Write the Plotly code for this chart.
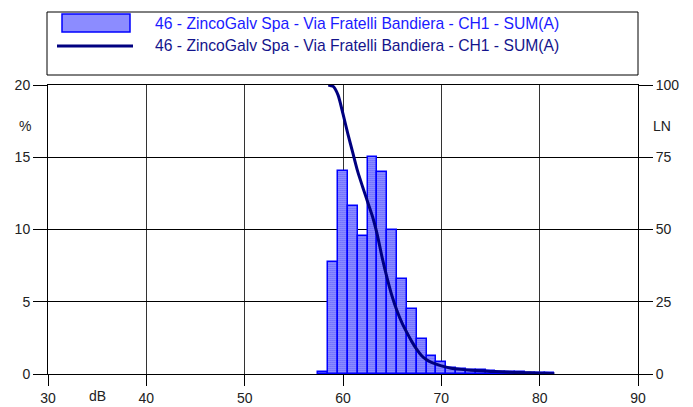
import plotly.graph_objects as go

# Histogram of levels (% of time per 1 dB class)
db_classes = [58, 59, 60, 61, 62, 63, 64, 65, 66, 67, 68, 69, 70,
              71, 72, 73, 74, 75, 76, 77, 78, 79, 80, 81]
percent = [0.12, 7.77, 14.05, 11.65, 9.55, 15.04, 14.0, 9.97, 6.6, 4.5, 2.4, 1.27, 0.8,
           0.45, 0.35, 0.3, 0.25, 0.2, 0.17, 0.14, 0.12, 0.1, 0.08, 0.05]

# Cumulative distribution LN
ln_db = [58.5, 59.0, 59.5, 60.0, 60.5, 61.0, 61.5, 62.0, 62.5, 63.0, 63.5, 64.0,
         64.5, 65.0, 65.5, 66.0, 66.5, 67.0, 67.5, 68.0, 68.5, 69.0, 70.0, 71.0,
         72.0, 73.0, 74.0, 75.0, 76.0, 77.0, 78.0, 79.0, 80.0, 81.0, 81.5]
ln_val = [100, 99.5, 96.5, 90, 83, 76.5, 70, 64.7, 59.6, 54.5, 48, 40,
          33, 26.8, 21.8, 17.7, 14.3, 11.2, 8.5, 6.3, 4.9, 4.0, 2.8, 2.0,
          1.6, 1.3, 1.1, 0.9, 0.75, 0.6, 0.5, 0.4, 0.3, 0.2, 0.1]

series_name = "46 - ZincoGalv Spa - Via Fratelli Bandiera - CH1 - SUM(A)"

FONT = "Arial, Liberation Sans, sans-serif"

# plot area in pixels: x 48..638, y 85..374
def px(x):
    return (x - 48) / 590.0

def py(y):
    return (374 - y) / 289.0

fig = go.Figure()

fig.add_trace(go.Bar(
    x=db_classes,
    y=percent,
    width=1,
    marker=dict(
        color="#ffffff",
        line=dict(color="#0000ff", width=1.5),
        pattern=dict(shape=".", fgcolor="#2a2aff", bgcolor="#dcdcff",
                     size=2, solidity=0.6, fillmode="replace"),
    ),
    name=series_name,
    showlegend=False,
))

fig.add_trace(go.Scatter(
    x=ln_db,
    y=ln_val,
    mode="lines",
    line=dict(color="#000080", width=3, shape="spline", smoothing=0.6),
    yaxis="y2",
    name=series_name,
    showlegend=False,
))

shapes = [
    # legend box
    dict(type="rect", xref="paper", yref="paper",
         x0=px(47), x1=px(638), y0=py(75), y1=py(12),
         line=dict(color="black", width=1), fillcolor="white", layer="below"),
    # bar legend symbol
    dict(type="rect", xref="paper", yref="paper",
         x0=px(62), x1=px(130), y0=py(32), y1=py(14),
         line=dict(color="#0000ff", width=1.5), fillcolor="#8c8cff"),
    # line legend symbol
    dict(type="line", xref="paper", yref="paper",
         x0=px(57), x1=px(133), y0=py(46), y1=py(46),
         line=dict(color="#000080", width=3)),
]

annotations = [
    dict(text=series_name, xref="paper", yref="paper", x=px(153), y=py(23),
         xanchor="left", yanchor="middle", showarrow=False,
         font=dict(family=FONT, size=15.7, color="#1a1aff")),
    dict(text=series_name, xref="paper", yref="paper", x=px(153), y=py(46),
         xanchor="left", yanchor="middle", showarrow=False,
         font=dict(family=FONT, size=15.7, color="#14148c")),
    dict(text="%", xref="paper", yref="paper", x=px(25), y=py(126),
         xanchor="center", yanchor="middle", showarrow=False,
         font=dict(family=FONT, size=14, color="#222")),
    dict(text="LN", xref="paper", yref="paper", x=px(662), y=py(126),
         xanchor="center", yanchor="middle", showarrow=False,
         font=dict(family=FONT, size=14, color="#222")),
    dict(text="dB", xref="paper", yref="paper", x=px(97), y=py(396),
         xanchor="center", yanchor="middle", showarrow=False,
         font=dict(family=FONT, size=14, color="#222")),
]

fig.update_layout(
    width=693,
    height=407,
    margin=dict(l=48, r=55, t=85, b=33),
    paper_bgcolor="white",
    plot_bgcolor="white",
    bargap=0,
    font=dict(family=FONT, size=14, color="#222"),
    shapes=shapes,
    annotations=annotations,
    xaxis=dict(
        range=[30, 90], tickvals=[30, 40, 50, 60, 70, 80, 90],
        showgrid=True, gridcolor="#333333", gridwidth=1,
        zeroline=False, showline=True, linecolor="black", linewidth=1, mirror=True,
        ticks="outside", ticklen=11, tickcolor="black", automargin=False,
    ),
    yaxis=dict(
        range=[0, 20], tickvals=[0, 5, 10, 15, 20],
        showgrid=True, gridcolor="black", gridwidth=1,
        zeroline=False, showline=True, linecolor="black", linewidth=1,
        ticks="outside", ticklen=14, tickcolor="black", automargin=False,
    ),
    yaxis2=dict(
        range=[0, 100], tickvals=[0, 25, 50, 75, 100],
        overlaying="y", side="right", showgrid=False,
        zeroline=False, showline=True, linecolor="black", linewidth=1,
        ticks="outside", ticklen=14, tickcolor="black", automargin=False,
    ),
)

fig.write_html("out.html", config={"displayModeBar": False},
               post_script="document.body.style.margin='0';")
